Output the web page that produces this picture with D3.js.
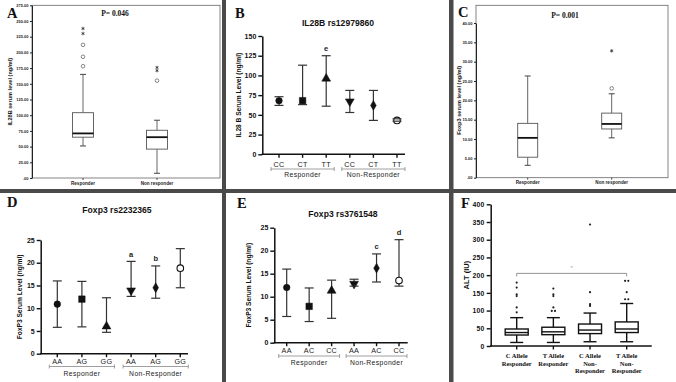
<!DOCTYPE html>
<html><head><meta charset="utf-8">
<script src="https://cdn.jsdelivr.net/npm/d3@7"></script>
<style>body{margin:0;background:#fff} svg{display:block}</style>
</head><body>
<svg id="c" width="676" height="382"></svg>
<script>
// ---------- DATA ----------
// Panel A (SPSS boxplot)
const aCats = ["Responder", "Non responder"];
const aLow = [51, 7.5], aQ1 = [65, 46], aMed = [71, 65], aQ3 = [104, 76], aHigh = [165, 92];
const aCircles = [[178, 193, 212], [155]];
const aStars = [[230, 238], [171, 176]];
const aTicks = [0, 25, 50, 75, 100, 125, 150, 175, 200, 225, 250, 275];
// Panel C (SPSS boxplot)
const cCats = ["Responder", "Non responder"];
const cLow = [3.2, 10.3], cQ1 = [5.3, 12.6], cMed = [10.3, 13.9], cQ3 = [14.05, 16.7], cHigh = [26.3, 21.7];
const cCircles = [[], [23.1]];
const cStars = [[], [32.8]];
const cTicks = [0, 5, 10, 15, 20, 25, 30, 35, 40];
// Panel B
const bCats = ["CC", "CT", "TT", "CC", "CT", "TT"];
const bMean = [68, 68, 96, 67, 62, 43];
const bLow = [62, 63, 61, 53, 43, 42];
const bHigh = [73, 113, 125, 81, 81, 45];
const bLetters = ["", "", "e", "", "", ""];
const bTicks = [0, 25, 50, 75, 100, 125, 150];
// Panel D
const dCats = ["AA", "AG", "GG", "AA", "AG", "GG"];
const dMean = [10.9, 12, 6, 13.9, 14.5, 18.8];
const dLow = [5.8, 5.9, 4.7, 12.6, 12.2, 14.5];
const dHigh = [16, 15.9, 12.3, 20.3, 19.3, 23.1];
const dLetters = ["", "", "", "a", "b", ""];
const dTicks = [0, 5, 10, 15, 20, 25];
// Panel E
const eCats = ["AA", "AC", "CC", "AA", "AC", "CC"];
const eMean = [12, 7.9, 11.3, 12.8, 16.2, 13.5];
const eLow = [5.7, 4.6, 5.3, 12.3, 13.2, 12.3];
const eHigh = [16, 11.9, 13.6, 13.8, 19.3, 22.4];
const eLetters = ["", "", "", "", "c", "d"];
const eTicks = [0, 5, 10, 15, 20, 25];
const groups = ["Responder", "Non-Responder"];
const markerShapes = ["circle", "square", "triangle", "triangleDown", "diamond", "open"];
// Panel F (Prism box & whiskers)
const fCatLines = [["C Allele", "Responder"], ["T Allele", "Responder"], ["C Allele", "Non-", "Responder"], ["T Allele", "Non-", "Responder"]];
const fLow = [10, 10, 12, 12], fQ1 = [31, 32, 35, 38], fMed = [38, 40, 45, 48], fQ3 = [48, 53, 62, 68], fHigh = [80, 80, 93, 120];
const fOut = [[179, 165, 146, 141, 109, 95], [162, 146, 141, 109, 99, 99], [343, 152, 118, 113], [184, 184, 152, 132, 132]];
const fTicks = [0, 50, 100, 150, 200, 250, 300, 350, 400];
const fSig = 205;

// ---------- DRAW ----------
const svg = d3.select("#c");
const SANS = "Arial, 'Liberation Sans', sans-serif";
const SERIF = "'Times New Roman', 'Liberation Serif', serif";

function panelLetter(t, x, y) {
  svg.append("text").attr("x", x).attr("y", y).text(t)
    .attr("font-family", SERIF).attr("font-weight", "bold").attr("font-size", 14.5).attr("fill", "#111");
}

// ---- SPSS boxplot ----
function spss(cfg) {
  const g = svg.append("g");
  const y = d3.scaleLinear().domain([0, cfg.max]).range(cfg.yr);
  const x = d3.scalePoint().domain(cfg.cats).range(cfg.xr);
  g.append("rect").attr("x", cfg.ax).attr("y", cfg.top).attr("width", cfg.right - cfg.ax).attr("height", cfg.yr[0] - cfg.top)
    .attr("fill", "none").attr("stroke", "#666").attr("stroke-width", 0.8);
  const ya = g.append("g").attr("transform", `translate(${cfg.ax},0)`)
    .call(d3.axisLeft(y).tickValues(cfg.ticks).tickSize(2).tickSizeOuter(0).tickPadding(1.5)
      .tickFormat(d => d === 0 ? ".00" : d.toFixed(2)));
  ya.select(".domain").attr("stroke", "#222").attr("stroke-width", 1);
  ya.selectAll("line").attr("stroke", "#222");
  ya.selectAll("text").attr("font-family", SANS).attr("font-size", 4).attr("font-weight", "bold").attr("fill", "#222");
  cfg.cats.forEach((c, i) => {
    g.append("line").attr("x1", x(c)).attr("x2", x(c)).attr("y1", cfg.yr[0]).attr("y2", cfg.yr[0] + 2).attr("stroke", "#222").attr("stroke-width", 0.8);
    g.append("text").attr("x", x(c)).attr("y", cfg.yr[0] + 6.5).attr("text-anchor", "middle").text(c)
      .attr("font-family", SANS).attr("font-size", 4.6).attr("font-weight", "bold").attr("fill", "#222");
  });
  g.append("text").attr("transform", `translate(${cfg.ytx},${(cfg.yr[0] + cfg.yr[1]) / 2}) rotate(-90)`)
    .attr("text-anchor", "middle").text(cfg.ytitle)
    .attr("font-family", SANS).attr("font-size", 5.6).attr("font-weight", "bold").attr("fill", "#222");
  const bw = cfg.bw;
  cfg.cats.forEach((c, i) => {
    const cx = x(c);
    g.append("line").attr("x1", cx).attr("x2", cx).attr("y1", y(cfg.low[i])).attr("y2", y(cfg.q1[i])).attr("stroke", "#555").attr("stroke-width", 0.9);
    g.append("line").attr("x1", cx).attr("x2", cx).attr("y1", y(cfg.q3[i])).attr("y2", y(cfg.high[i])).attr("stroke", "#555").attr("stroke-width", 0.9);
    [cfg.low[i], cfg.high[i]].forEach(v => g.append("line").attr("x1", cx - 3).attr("x2", cx + 3).attr("y1", y(v)).attr("y2", y(v)).attr("stroke", "#444").attr("stroke-width", 1));
    g.append("rect").attr("x", cx - bw / 2).attr("y", y(cfg.q3[i])).attr("width", bw).attr("height", y(cfg.q1[i]) - y(cfg.q3[i]))
      .attr("fill", "#fff").attr("stroke", "#555").attr("stroke-width", 0.9);
    g.append("line").attr("x1", cx - bw / 2).attr("x2", cx + bw / 2).attr("y1", y(cfg.med[i])).attr("y2", y(cfg.med[i])).attr("stroke", "#111").attr("stroke-width", 1.8);
    cfg.circles[i].forEach(v => g.append("circle").attr("cx", cx).attr("cy", y(v)).attr("r", 1.8).attr("fill", "none").attr("stroke", "#555").attr("stroke-width", 0.7));
    cfg.stars[i].forEach(v => g.append("path").attr("transform", `translate(${cx},${y(v)})`)
      .attr("d", d3.symbol().type(d3.symbolAsterisk).size(8)()).attr("stroke", "#333").attr("stroke-width", 0.8).attr("fill", "none"));
  });
  g.append("text").attr("x", cfg.px).attr("y", cfg.py).attr("text-anchor", "middle").text(cfg.ptext)
    .attr("font-family", SERIF).attr("font-size", 7.5).attr("font-weight", "bold").attr("fill", "#111");
}

spss({ cats: aCats, low: aLow, q1: aQ1, med: aMed, q3: aQ3, high: aHigh, circles: aCircles, stars: aStars, ticks: aTicks,
  max: 275, yr: [178, 5.3], xr: [83, 157], ax: 32, top: 5.3, right: 220, bw: 21, ytx: 12,
  ytitle: "IL28B serum level (ng/ml)", px: 115, py: 16, ptext: "P= 0.046" });
spss({ cats: cCats, low: cLow, q1: cQ1, med: cMed, q3: cQ3, high: cHigh, circles: cCircles, stars: cStars, ticks: cTicks,
  max: 40, yr: [177.7, 23], xr: [527.7, 611.7], ax: 476, top: 5.3, right: 668, bw: 20, ytx: 461,
  ytitle: "Foxp3 serum level (ng/ml)", px: 565, py: 18, ptext: "P= 0.001" });

// ---- mean & error panels ----
function markerPath(shape) {
  const s = d3.symbol();
  if (shape === "circle" || shape === "open") return s.type(d3.symbolCircle).size(34)();
  if (shape === "square") return s.type(d3.symbolSquare).size(42)();
  if (shape === "triangle" || shape === "triangleDown") return s.type(d3.symbolTriangle).size(34)();
  if (shape === "diamond") return s.type(d3.symbolDiamond).size(28)();
}
function dotPanel(cfg) {
  const g = svg.append("g");
  const y = d3.scaleLinear().domain([0, cfg.max]).range(cfg.yr);
  const n = cfg.cats.length;
  const x = d3.scalePoint().domain(d3.range(n)).range(cfg.xr);
  const ya = g.append("g").attr("transform", `translate(${cfg.ax},0)`)
    .call(d3.axisLeft(y).tickValues(cfg.ticks).tickSize(4).tickSizeOuter(0).tickPadding(2));
  ya.select(".domain").attr("stroke", "#111").attr("stroke-width", 1.5);
  ya.selectAll("line").attr("stroke", "#111").attr("stroke-width", 1.4);
  ya.selectAll("text").attr("font-family", SANS).attr("font-size", 7).attr("font-weight", "bold").attr("fill", "#111");
  g.append("line").attr("x1", cfg.ax - 0.7).attr("x2", cfg.xend).attr("y1", y(0)).attr("y2", y(0)).attr("stroke", "#111").attr("stroke-width", 1.5);
  cfg.cats.forEach((c, i) => {
    g.append("line").attr("x1", x(i)).attr("x2", x(i)).attr("y1", y(0)).attr("y2", y(0) + 3.5).attr("stroke", "#111").attr("stroke-width", 1.4);
    g.append("text").attr("x", x(i)).attr("y", cfg.labY).attr("text-anchor", "middle").text(c)
      .attr("font-family", SANS).attr("font-size", 7.2).attr("fill", "#222").attr("letter-spacing", 0.3);
  });
  [0, 1].forEach(k => {
    const x1 = x(k * 3) - 8, x2 = x(k * 3 + 2) + 8;
    g.append("line").attr("x1", x1).attr("x2", x2).attr("y1", cfg.brY).attr("y2", cfg.brY).attr("stroke", "#888").attr("stroke-width", 0.8);
    [x1, x2].forEach(xx => g.append("line").attr("x1", xx).attr("x2", xx).attr("y1", cfg.brY - 2).attr("y2", cfg.brY + 2).attr("stroke", "#888").attr("stroke-width", 0.8));
    g.append("text").attr("x", (x1 + x2) / 2).attr("y", cfg.grY).attr("text-anchor", "middle").text(groups[k])
      .attr("font-family", SANS).attr("font-size", 6.8).attr("fill", "#222").attr("letter-spacing", 0.4);
  });
  g.append("text").attr("x", cfg.tx).attr("y", cfg.ty).attr("text-anchor", "middle").text(cfg.title)
    .attr("font-family", SANS).attr("font-size", 8.6).attr("font-weight", "bold").attr("fill", "#111");
  g.append("text").attr("transform", `translate(${cfg.ytx},${(cfg.yr[0] + cfg.yr[1]) / 2}) rotate(-90)`)
    .attr("text-anchor", "middle").text(cfg.ytitle)
    .attr("font-family", SANS).attr("font-size", 6.6).attr("font-weight", "bold").attr("fill", "#111");
  cfg.cats.forEach((c, i) => {
    g.append("line").attr("x1", x(i)).attr("x2", x(i)).attr("y1", y(cfg.low[i])).attr("y2", y(cfg.high[i])).attr("stroke", "#333").attr("stroke-width", 1.2);
  });
  cfg.cats.forEach((c, i) => {
    const sh = markerShapes[i];
    const rot = sh === "triangleDown" ? " rotate(180)" : "";
    g.append("path").attr("transform", `translate(${x(i)},${y(cfg.mean[i])})${rot}`).attr("d", markerPath(sh))
      .attr("fill", sh === "open" ? "#fff" : "#111").attr("stroke", "#111").attr("stroke-width", sh === "open" ? 1.1 : 0.5);
  });
  cfg.cats.forEach((c, i) => {
    [cfg.low[i], cfg.high[i]].forEach(v => g.append("line").attr("x1", x(i) - 4.5).attr("x2", x(i) + 4.5).attr("y1", y(v)).attr("y2", y(v)).attr("stroke", "#333").attr("stroke-width", 1.2));
    if (cfg.letters[i]) g.append("text").attr("x", x(i)).attr("y", y(cfg.high[i]) - 4.5).attr("text-anchor", "middle").text(cfg.letters[i])
      .attr("font-family", SANS).attr("font-size", 7.5).attr("font-weight", "bold").attr("fill", "#222");
  });
}

dotPanel({ cats: bCats, mean: bMean, low: bLow, high: bHigh, letters: bLetters, ticks: bTicks, max: 150,
  yr: [154.3, 36], xr: [279, 397], ax: 262.3, xend: 405, labY: 166.7, brY: 169, grY: 177, tx: 338, ty: 26,
  title: "IL28B rs12979860", ytx: 241, ytitle: "IL28 B Serum Level (ng/ml)" });
dotPanel({ cats: dCats, mean: dMean, low: dLow, high: dHigh, letters: dLetters, ticks: dTicks, max: 25,
  yr: [353.7, 240], xr: [57.3, 180.3], ax: 40.7, xend: 188, labY: 363.5, brY: 366.5, grY: 375.5, tx: 117, ty: 213,
  title: "Foxp3 rs2232365", ytx: 22, ytitle: "FoxP3 Serum Level (ng/ml)" });
dotPanel({ cats: eCats, mean: eMean, low: eLow, high: eHigh, letters: eLetters, ticks: eTicks, max: 25,
  yr: [342.7, 227.7], xr: [286.7, 399], ax: 274.3, xend: 407.7, labY: 353.3, brY: 356, grY: 365, tx: 343, ty: 217,
  title: "Foxp3 rs3761548", ytx: 251, ytitle: "FoxP3 Serum Level (ng/ml)" });

// ---- Panel F ----
(function () {
  const g = svg.append("g");
  const y = d3.scaleLinear().domain([0, 400]).range([346, 204.3]);
  const x = d3.scalePoint().domain(d3.range(fCatLines.length)).range([516.7, 626.7]);
  const ax = 490.7;
  const ya = g.append("g").attr("transform", `translate(${ax},0)`)
    .call(d3.axisLeft(y).tickValues(fTicks).tickSize(4).tickSizeOuter(0).tickPadding(2));
  ya.select(".domain").attr("stroke", "#111").attr("stroke-width", 1.5);
  ya.selectAll("line").attr("stroke", "#111").attr("stroke-width", 1.4);
  ya.selectAll("text").attr("font-family", SANS).attr("font-size", 6.8).attr("font-weight", "bold").attr("fill", "#111").attr("letter-spacing", 0.3);
  g.append("line").attr("x1", ax - 0.7).attr("x2", 651.7).attr("y1", y(0)).attr("y2", y(0)).attr("stroke", "#111").attr("stroke-width", 1.5);
  g.append("text").attr("transform", `translate(469,${(346 + 204.3) / 2}) rotate(-90)`).attr("text-anchor", "middle").text("ALT (IU)")
    .attr("font-family", SANS).attr("font-size", 7.5).attr("font-weight", "bold").attr("fill", "#111");
  const bw = 23;
  fCatLines.forEach((lines, i) => {
    const cx = x(i);
    g.append("line").attr("x1", cx).attr("x2", cx).attr("y1", y(0)).attr("y2", y(0) + 3.5).attr("stroke", "#111").attr("stroke-width", 1.4);
    lines.forEach((t, j) => g.append("text").attr("x", cx).attr("y", 358 + j * 7.5).attr("text-anchor", "middle").text(t)
      .attr("font-family", SERIF).attr("font-size", 6.5).attr("font-weight", "bold").attr("fill", "#111"));
    g.append("line").attr("x1", cx).attr("x2", cx).attr("y1", y(fLow[i])).attr("y2", y(fHigh[i])).attr("stroke", "#111").attr("stroke-width", 1.4);
    [fLow[i], fHigh[i]].forEach(v => g.append("line").attr("x1", cx - 6.5).attr("x2", cx + 6.5).attr("y1", y(v)).attr("y2", y(v)).attr("stroke", "#111").attr("stroke-width", 1.4));
    g.append("rect").attr("x", cx - bw / 2).attr("y", y(fQ3[i])).attr("width", bw).attr("height", y(fQ1[i]) - y(fQ3[i]))
      .attr("fill", "#fff").attr("stroke", "#111").attr("stroke-width", 1.4);
    g.append("line").attr("x1", cx - bw / 2).attr("x2", cx + bw / 2).attr("y1", y(fMed[i])).attr("y2", y(fMed[i])).attr("stroke", "#111").attr("stroke-width", 1.4);
    const counts = d3.rollup(fOut[i], v => v.length, d => d);
    const seen = new Map();
    fOut[i].forEach(v => {
      const k = seen.get(v) || 0; seen.set(v, k + 1);
      const tot = counts.get(v);
      const dx = tot > 1 ? (k - (tot - 1) / 2) * 3.2 : 0;
      g.append("circle").attr("cx", cx + dx).attr("cy", y(v)).attr("r", 1.1).attr("fill", "#222");
    });
  });
  const x1 = x(0), x2 = x(3), ys = y(fSig);
  g.append("line").attr("x1", x1).attr("x2", x2).attr("y1", ys).attr("y2", ys).attr("stroke", "#888").attr("stroke-width", 0.9);
  [x1, x2].forEach(xx => g.append("line").attr("x1", xx).attr("x2", xx).attr("y1", ys).attr("y2", ys + 3).attr("stroke", "#888").attr("stroke-width", 0.9));
  g.append("text").attr("x", (x1 + x2) / 2).attr("y", ys - 3).attr("text-anchor", "middle").text("*")
    .attr("font-family", SANS).attr("font-size", 5).attr("fill", "#888");
})();

// separators
svg.append("rect").attr("x", 222).attr("y", 0).attr("width", 4).attr("height", 382).attr("fill", "#4a4a4a");
svg.append("rect").attr("x", 449).attr("y", 0).attr("width", 4.5).attr("height", 382).attr("fill", "#4a4a4a");
svg.append("rect").attr("x", 0).attr("y", 189).attr("width", 676).attr("height", 4).attr("fill", "#4a4a4a");

panelLetter("A", 7, 18);
panelLetter("B", 235, 18);
panelLetter("C", 458, 17);
panelLetter("D", 7, 207);
panelLetter("E", 237, 208);
panelLetter("F", 461, 208);
</script>
</body></html>
